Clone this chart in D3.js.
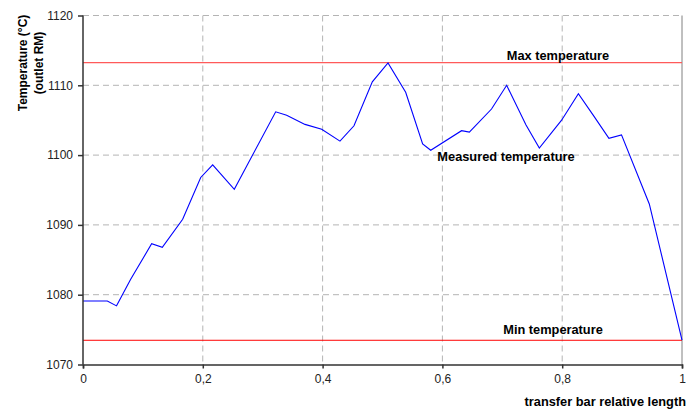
<!DOCTYPE html>
<html>
<head>
<meta charset="utf-8">
<script src="https://cdn.jsdelivr.net/npm/d3@7"></script>
<style>
  body { margin: 0; background: #fff; }
  svg { font-family: Arial, "Liberation Sans", sans-serif; }
</style>
</head>
<body>
<div class="container__chart"></div>
<script>
// data
const positions = [0, 0.0406, 0.056, 0.0796, 0.1146, 0.1324, 0.1664, 0.1965, 0.2165, 0.2526,
  0.3217, 0.34, 0.3706, 0.3985, 0.429, 0.4524, 0.483, 0.5092, 0.5387, 0.567, 0.5805,
  0.632, 0.645, 0.682, 0.7073, 0.7396, 0.7618, 0.799, 0.827, 0.852, 0.878, 0.899, 0.9454, 1];
const measured = [1079.1, 1079.1, 1078.4, 1082.2, 1087.3, 1086.8, 1090.8, 1096.8, 1098.6, 1095.1,
  1106.2, 1105.7, 1104.4, 1103.7, 1102.0, 1104.2, 1110.5, 1113.2, 1109.0, 1101.6, 1100.7,
  1103.5, 1103.3, 1106.6, 1110.0, 1104.3, 1101.0, 1105.0, 1108.8, 1105.7, 1102.4, 1102.9, 1093.0, 1073.5];
const maxTemp = 1113.24;
const minTemp = 1073.47;
const xTicks = [0, 0.2, 0.4, 0.6, 0.8, 1];
const yTicks = [1070, 1080, 1090, 1100, 1110, 1120];

const WIDTH = 688;
const HEIGHT = 412;
const xScale = d3.scaleLinear().domain([0, 1]).range([83, 682]);
const yScale = d3.scaleLinear().domain([1070, 1120]).range([364.5, 15.5]);

const svg = d3.select(".container__chart")
    .append("svg")
    .attr("width", WIDTH)
    .attr("height", HEIGHT);

// grid
svg.append("g").selectAll("line")
    .data(yTicks.filter(d => d > 1070))
    .enter()
    .append("line")
    .attr("x1", xScale(0)).attr("x2", xScale(1))
    .attr("y1", d => yScale(d)).attr("y2", d => yScale(d))
    .attr("stroke", "#b4b4b4")
    .attr("stroke-dasharray", "6,4");

svg.append("g").selectAll("line")
    .data(xTicks.filter(d => d > 0 && d < 1))
    .enter()
    .append("line")
    .attr("x1", d => xScale(d)).attr("x2", d => xScale(d))
    .attr("y1", yScale(1120)).attr("y2", yScale(1070))
    .attr("stroke", "#b4b4b4")
    .attr("stroke-dasharray", "6,4");

// right border
svg.append("line")
    .attr("x1", xScale(1)).attr("x2", xScale(1))
    .attr("y1", yScale(1120)).attr("y2", yScale(1070))
    .attr("stroke", "#808080");

// limit lines
svg.append("line")
    .attr("x1", xScale(0)).attr("x2", xScale(1))
    .attr("y1", yScale(maxTemp)).attr("y2", yScale(maxTemp))
    .attr("stroke", "#ff5a5a").attr("stroke-width", 1.3);
svg.append("line")
    .attr("x1", xScale(0)).attr("x2", xScale(1))
    .attr("y1", yScale(minTemp)).attr("y2", yScale(minTemp))
    .attr("stroke", "#ff0000");

// measured line
const line = d3.line().x((d, i) => xScale(positions[i])).y(d => yScale(d));
svg.append("path")
    .datum(measured)
    .attr("d", line)
    .attr("fill", "none")
    .attr("stroke", "#0000ff")
    .attr("stroke-width", 1.1);

// axes
const xAxis = d3.axisBottom(xScale).tickValues(xTicks)
    .tickFormat(d => String(d).replace(".", ",")).tickSize(4).tickPadding(6);
svg.append("g")
    .attr("transform", `translate(0,${yScale(1070)})`)
    .call(xAxis)
    .call(g => g.selectAll("text").style("font-size", "12px").attr("fill", "#222"))
    .call(g => g.selectAll("path, line").attr("stroke", "#333").attr("stroke-width", 1.5));

const yAxis = d3.axisLeft(yScale).tickValues(yTicks)
    .tickFormat(d3.format("d")).tickSize(5).tickPadding(5);
svg.append("g")
    .attr("transform", `translate(${xScale(0)},0)`)
    .call(yAxis)
    .call(g => g.select(".domain").attr("d", `M0,${yScale(1070)}V${yScale(1120)}`))
    .call(g => g.selectAll("text").style("font-size", "12px").attr("fill", "#222"))
    .call(g => g.selectAll("path, line").attr("stroke", "#333").attr("stroke-width", 1.5));

// labels
svg.append("text")
    .attr("x", 558).attr("y", 60)
    .attr("text-anchor", "middle")
    .style("font-size", "12.8px").style("font-weight", "bold")
    .text("Max temperature");
svg.append("text")
    .attr("x", 506).attr("y", 161)
    .attr("text-anchor", "middle")
    .style("font-size", "12.8px").style("font-weight", "bold")
    .text("Measured temperature");
svg.append("text")
    .attr("x", 553).attr("y", 334)
    .attr("text-anchor", "middle")
    .style("font-size", "12.8px").style("font-weight", "bold")
    .text("Min temperature");

svg.append("text")
    .attr("x", 686).attr("y", 406)
    .attr("text-anchor", "end")
    .style("font-size", "12.8px").style("font-weight", "bold")
    .text("transfer bar relative length");

const yTitle = svg.append("text")
    .attr("transform", "translate(0,63) rotate(-90)")
    .attr("text-anchor", "middle")
    .style("font-size", "12px").style("font-weight", "bold");
yTitle.append("tspan").attr("x", 0).attr("y", 27).text("Temperature (°C)");
yTitle.append("tspan").attr("x", 0).attr("y", 43).text("(outlet RM)");
</script>
</body>
</html>
